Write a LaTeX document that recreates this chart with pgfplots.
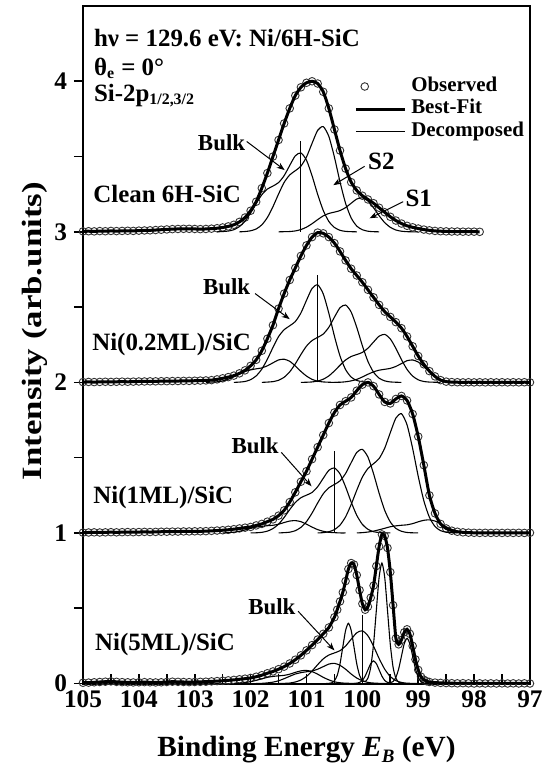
\documentclass[border=0pt]{standalone}
\usepackage{fontspec}
\setmainfont{Liberation Serif}
\usepackage{graphicx}
\usepackage{pgfplots}
\pgfplotsset{compat=1.18}
\usepackage{pgfplotstable}
\usetikzlibrary{arrows.meta}

\newcommand\annf{\fontsize{12.5}{14}\selectfont\bfseries}
\newcommand\bulkf{\fontsize{11.5}{13}\selectfont\bfseries}

\pgfplotsset{
 obs/.style={only marks, mark=o, mark size=1.9bp, mark options={line width=0.45bp, draw=black!80}},
 fit/.style={line width=1.5bp, black, smooth, tension=0.4, mark=none},
 comp/.style={line width=0.55bp, black, smooth, tension=0.4, mark=none},
 vline/.style={line width=0.55bp, black, mark=none},
 obslegend/.style={legend image code/.code={\draw[mark repeat=2,mark phase=2,##1] plot coordinates {(0bp,0bp) (4.5bp,0bp) (9bp,0bp)};}},
}

% ---------- observed (relative to baseline) ----------
\pgfplotstableread[row sep=\\]{E v\\
105.0 0.003\\104.9 0.004\\104.8 0.003\\104.7 0.005\\104.6 0.004\\104.5 0.006\\104.4 0.005\\104.3 0.006\\104.2 0.007\\104.1 0.006\\
104.0 0.008\\103.9 0.009\\103.8 0.010\\103.7 0.012\\103.6 0.014\\103.5 0.016\\103.4 0.018\\103.3 0.019\\103.2 0.020\\103.1 0.020\\
103.0 0.019\\102.9 0.018\\102.8 0.019\\102.7 0.021\\102.6 0.024\\102.5 0.029\\102.4 0.036\\102.3 0.047\\102.2 0.066\\102.1 0.095\\
102.0 0.140\\101.9 0.200\\101.8 0.290\\101.7 0.390\\101.6 0.500\\101.5 0.610\\101.4 0.720\\101.3 0.820\\101.2 0.905\\101.1 0.960\\
101.0 0.990\\100.9 1.000\\100.8 0.985\\100.7 0.930\\100.6 0.820\\100.5 0.680\\100.4 0.540\\100.3 0.420\\100.2 0.330\\100.1 0.275\\
100.0 0.240\\99.9 0.215\\99.8 0.190\\99.7 0.160\\99.6 0.130\\99.5 0.100\\99.4 0.075\\99.3 0.055\\99.2 0.040\\99.1 0.030\\
99.0 0.022\\98.9 0.015\\98.8 0.010\\98.7 0.006\\98.6 0.004\\98.5 0.003\\98.4 0.002\\98.3 0.002\\98.2 0.001\\98.1 0.001\\
98.0 0.001\\97.9 0.000\\
}\obsA

\pgfplotstableread[row sep=\\]{E v\\
105.0 0.002\\104.9 0.003\\104.8 0.002\\104.7 0.003\\104.6 0.004\\104.5 0.003\\104.4 0.004\\104.3 0.005\\104.2 0.004\\104.1 0.005\\
104.0 0.006\\103.9 0.006\\103.8 0.007\\103.7 0.007\\103.6 0.008\\103.5 0.008\\103.4 0.009\\103.3 0.009\\103.2 0.010\\103.1 0.010\\
103.0 0.011\\102.9 0.012\\102.8 0.013\\102.7 0.015\\102.6 0.020\\102.5 0.027\\102.4 0.035\\102.3 0.045\\102.2 0.060\\102.1 0.080\\
102.0 0.110\\101.9 0.150\\101.8 0.210\\101.7 0.290\\101.6 0.380\\101.5 0.490\\101.4 0.590\\101.3 0.680\\101.2 0.760\\101.1 0.840\\
101.0 0.910\\100.9 0.965\\100.8 0.995\\100.7 0.990\\100.6 0.965\\100.5 0.925\\100.4 0.870\\100.3 0.810\\100.2 0.755\\100.1 0.710\\
100.0 0.665\\99.9 0.615\\99.8 0.565\\99.7 0.515\\99.6 0.470\\99.5 0.435\\99.4 0.400\\99.3 0.360\\99.2 0.305\\99.1 0.240\\
99.0 0.175\\98.9 0.120\\98.8 0.075\\98.7 0.040\\98.6 0.015\\98.5 0.005\\98.4 0.002\\98.3 0.001\\98.2 0.000\\98.1 0.001\\
98.0 0.000\\97.9 0.001\\97.8 0.000\\97.7 0.001\\97.6 0.000\\97.5 0.001\\97.4 0.000\\97.3 0.001\\97.2 0.000\\97.1 0.001\\97.0 0.000\\
}\obsB

\pgfplotstableread[row sep=\\]{E v\\
105.0 0.002\\104.9 0.003\\104.8 0.004\\104.7 0.003\\104.6 0.004\\104.5 0.005\\104.4 0.004\\104.3 0.005\\104.2 0.006\\104.1 0.005\\
104.0 0.006\\103.9 0.007\\103.8 0.006\\103.7 0.007\\103.6 0.008\\103.5 0.008\\103.4 0.009\\103.3 0.009\\103.2 0.010\\103.1 0.010\\
103.0 0.011\\102.9 0.011\\102.8 0.012\\102.7 0.014\\102.6 0.016\\102.5 0.018\\102.4 0.021\\102.3 0.025\\102.2 0.030\\102.1 0.035\\
102.0 0.040\\101.9 0.050\\101.8 0.060\\101.7 0.075\\101.6 0.090\\101.5 0.115\\101.4 0.150\\101.3 0.205\\101.2 0.270\\101.1 0.340\\
101.0 0.410\\100.9 0.490\\100.8 0.570\\100.7 0.650\\100.6 0.730\\100.5 0.800\\100.4 0.850\\100.3 0.875\\100.2 0.900\\100.1 0.945\\
100.0 0.985\\99.9 1.000\\99.8 0.975\\99.7 0.920\\99.6 0.870\\99.5 0.860\\99.4 0.890\\99.3 0.910\\99.2 0.880\\99.1 0.790\\
99.0 0.640\\98.9 0.450\\98.8 0.250\\98.7 0.130\\98.6 0.060\\98.5 0.030\\98.4 0.015\\98.3 0.008\\98.2 0.004\\98.1 0.002\\
98.0 0.001\\97.9 0.000\\97.8 0.001\\97.7 0.000\\97.6 0.001\\97.5 0.000\\97.4 0.001\\97.3 0.000\\97.2 0.001\\97.1 0.000\\97.0 0.001\\
}\obsC

\pgfplotstableread[row sep=\\]{E v\\
105.0 0.005\\104.9 0.006\\104.8 0.008\\104.7 0.010\\104.6 0.012\\104.5 0.014\\104.4 0.011\\104.3 0.009\\104.2 0.008\\104.1 0.007\\
104.0 0.008\\103.9 0.009\\103.8 0.008\\103.7 0.007\\103.6 0.008\\103.5 0.010\\103.4 0.012\\103.3 0.011\\103.2 0.010\\103.1 0.009\\
103.0 0.010\\102.9 0.011\\102.8 0.012\\102.7 0.014\\102.6 0.016\\102.5 0.018\\102.4 0.021\\102.3 0.024\\102.2 0.028\\102.1 0.032\\
102.0 0.037\\101.9 0.045\\101.8 0.055\\101.7 0.068\\101.6 0.080\\101.5 0.095\\101.4 0.112\\101.3 0.133\\101.2 0.158\\101.1 0.187\\
101.0 0.220\\100.9 0.255\\100.8 0.292\\100.7 0.330\\100.6 0.372\\100.5 0.440\\
100.45 0.490\\100.40 0.545\\100.35 0.605\\100.30 0.680\\100.25 0.760\\100.20 0.800\\100.15 0.790\\100.10 0.720\\100.05 0.620\\100.00 0.530\\
99.95 0.490\\99.90 0.510\\99.85 0.570\\99.80 0.650\\99.75 0.780\\99.70 0.910\\99.65 0.990\\99.60 0.980\\99.55 0.900\\99.50 0.740\\
99.45 0.520\\99.40 0.300\\99.35 0.260\\99.30 0.290\\99.25 0.340\\99.20 0.360\\99.15 0.330\\99.10 0.250\\99.05 0.160\\99.00 0.090\\
98.95 0.045\\98.90 0.025\\98.85 0.015\\98.80 0.010\\
98.7 0.006\\98.6 0.004\\98.5 0.003\\98.4 0.002\\98.3 0.001\\98.2 0.002\\98.1 0.001\\98.0 0.000\\97.9 0.001\\97.8 0.000\\
97.7 0.001\\97.6 0.000\\97.5 0.001\\97.4 0.000\\97.3 0.001\\97.2 0.000\\97.1 0.001\\97.0 0.000\\
}\obsD

% ---------- components: clean ----------
\pgfplotstableread[row sep=\\]{E v\\
100.1 0\\100.2 0.001\\100.3 0.003\\100.4 0.010\\100.5 0.029\\100.6 0.069\\100.7 0.142\\100.8 0.249\\100.9 0.372\\101.0 0.476\\
101.1 0.524\\101.2 0.505\\101.3 0.441\\101.4 0.373\\101.5 0.327\\101.6 0.304\\101.7 0.284\\101.8 0.246\\101.9 0.188\\102.0 0.125\\
102.1 0.071\\102.2 0.035\\102.3 0.014\\102.4 0.005\\102.5 0.002\\102.6 0\\
}\cAa
\pgfplotstableread[row sep=\\]{E v\\
99.7 0\\99.8 0.001\\99.9 0.004\\100.0 0.014\\100.1 0.038\\100.2 0.092\\100.3 0.189\\100.4 0.332\\100.5 0.496\\100.6 0.634\\
100.7 0.699\\100.8 0.674\\100.9 0.588\\101.0 0.497\\101.1 0.436\\101.2 0.406\\101.3 0.378\\101.4 0.328\\101.5 0.251\\101.6 0.167\\
101.7 0.095\\101.8 0.046\\101.9 0.019\\102.0 0.007\\102.1 0.002\\102.2 0\\
}\cAb
\pgfplotstableread[row sep=\\]{E v\\
99.0 0\\99.1 0.000\\99.2 0.001\\99.3 0.004\\99.4 0.012\\99.5 0.030\\99.6 0.061\\99.7 0.107\\99.8 0.160\\99.9 0.205\\
100.0 0.226\\100.1 0.218\\100.2 0.190\\100.3 0.161\\100.4 0.141\\100.5 0.131\\100.6 0.122\\100.7 0.106\\100.8 0.081\\100.9 0.054\\
101.0 0.031\\101.1 0.015\\101.2 0.006\\101.3 0.002\\101.4 0.001\\101.5 0\\
}\cAc

% ---------- components: 0.2 ML ----------
\pgfplotstableread[row sep=\\]{E v\\
100.4 0\\100.5 0.000\\100.6 0.001\\100.7 0.003\\100.8 0.008\\100.9 0.020\\101.0 0.042\\101.1 0.073\\101.2 0.109\\101.3 0.140\\
101.4 0.154\\101.5 0.149\\101.6 0.130\\101.7 0.110\\101.8 0.096\\101.9 0.090\\102.0 0.083\\102.1 0.072\\102.2 0.055\\102.3 0.037\\
102.4 0.021\\102.5 0.010\\102.6 0.004\\102.7 0.002\\102.8 0\\
}\cBa
\pgfplotstableread[row sep=\\]{E v\\
99.8 0\\99.9 0.001\\100.0 0.004\\100.1 0.013\\100.2 0.035\\100.3 0.085\\100.4 0.175\\100.5 0.307\\100.6 0.459\\100.7 0.588\\
100.8 0.648\\100.9 0.624\\101.0 0.545\\101.1 0.461\\101.2 0.404\\101.3 0.376\\101.4 0.350\\101.5 0.304\\101.6 0.232\\101.7 0.154\\
101.8 0.088\\101.9 0.043\\102.0 0.018\\102.1 0.006\\102.2 0.002\\102.3 0\\
}\cBb
\pgfplotstableread[row sep=\\]{E v\\
99.3 0\\99.4 0.001\\99.5 0.003\\99.6 0.010\\99.7 0.028\\99.8 0.068\\99.9 0.139\\100.0 0.244\\100.1 0.365\\100.2 0.467\\
100.3 0.514\\100.4 0.496\\100.5 0.433\\100.6 0.366\\100.7 0.321\\100.8 0.299\\100.9 0.278\\101.0 0.241\\101.1 0.185\\101.2 0.123\\
101.3 0.070\\101.4 0.034\\101.5 0.014\\101.6 0.005\\101.7 0.002\\101.8 0\\
}\cBc
\pgfplotstableread[row sep=\\]{E v\\
98.6 0\\98.7 0.001\\98.8 0.002\\98.9 0.006\\99.0 0.017\\99.1 0.042\\99.2 0.086\\99.3 0.151\\99.4 0.226\\99.5 0.289\\
99.6 0.319\\99.7 0.307\\99.8 0.268\\99.9 0.227\\100.0 0.199\\100.1 0.185\\100.2 0.172\\100.3 0.149\\100.4 0.114\\100.5 0.076\\
100.6 0.043\\100.7 0.021\\100.8 0.009\\100.9 0.003\\101.0 0.001\\101.1 0\\
}\cBd
\pgfplotstableread[row sep=\\]{E v\\
98.1 0\\98.2 0.000\\98.3 0.001\\98.4 0.003\\98.5 0.008\\98.6 0.020\\98.7 0.040\\98.8 0.071\\98.9 0.106\\99.0 0.135\\
99.1 0.149\\99.2 0.144\\99.3 0.125\\99.4 0.106\\99.5 0.093\\99.6 0.087\\99.7 0.081\\99.8 0.070\\99.9 0.054\\100.0 0.036\\
100.1 0.020\\100.2 0.010\\100.3 0.004\\100.4 0.001\\100.5 0\\
}\cBe

% ---------- components: 1 ML ----------
\pgfplotstableread[row sep=\\]{E v\\
100.3 0\\100.4 0.000\\100.5 0.002\\100.6 0.004\\100.7 0.011\\100.8 0.022\\100.9 0.039\\101.0 0.058\\101.1 0.075\\101.2 0.082\\
101.3 0.079\\101.4 0.069\\101.5 0.058\\101.6 0.051\\101.7 0.048\\101.8 0.044\\101.9 0.039\\102.0 0.030\\102.1 0.020\\102.2 0.011\\
102.3 0.005\\102.4 0.002\\102.5 0\\
}\cCa
\pgfplotstableread[row sep=\\]{E v\\
99.5 0\\99.6 0.001\\99.7 0.003\\99.8 0.008\\99.9 0.024\\100.0 0.057\\100.1 0.117\\100.2 0.205\\100.3 0.306\\100.4 0.392\\
100.5 0.432\\100.6 0.416\\100.7 0.363\\100.8 0.307\\100.9 0.269\\101.0 0.251\\101.1 0.234\\101.2 0.202\\101.3 0.155\\101.4 0.103\\
101.5 0.058\\101.6 0.029\\101.7 0.012\\101.8 0.004\\101.9 0.001\\102.0 0\\
}\cCb
\pgfplotstableread[row sep=\\]{E v\\
99.0 0\\99.1 0.001\\99.2 0.003\\99.3 0.011\\99.4 0.030\\99.5 0.073\\99.6 0.150\\99.7 0.264\\99.8 0.394\\99.9 0.504\\
100.0 0.555\\100.1 0.535\\100.2 0.467\\100.3 0.395\\100.4 0.346\\100.5 0.322\\100.6 0.300\\100.7 0.260\\100.8 0.199\\100.9 0.132\\
101.0 0.075\\101.1 0.037\\101.2 0.015\\101.3 0.005\\101.4 0.002\\101.5 0\\
}\cCc
\pgfplotstableread[row sep=\\]{E v\\
98.3 0\\98.4 0.002\\98.5 0.005\\98.6 0.015\\98.7 0.043\\98.8 0.104\\98.9 0.214\\99.0 0.376\\99.1 0.561\\99.2 0.718\\
99.3 0.792\\99.4 0.763\\99.5 0.666\\99.6 0.563\\99.7 0.494\\99.8 0.460\\99.9 0.428\\100.0 0.371\\100.1 0.284\\100.2 0.189\\
100.3 0.107\\100.4 0.052\\100.5 0.022\\100.6 0.008\\100.7 0.002\\100.8 0\\
}\cCd
\pgfplotstableread[row sep=\\]{E v\\
98.0 0\\98.1 0.002\\98.2 0.005\\98.3 0.011\\98.4 0.024\\98.5 0.041\\98.6 0.062\\98.7 0.079\\98.8 0.087\\98.9 0.084\\
99.0 0.074\\99.1 0.062\\99.2 0.054\\99.3 0.051\\99.4 0.047\\99.5 0.041\\99.6 0.031\\99.7 0.021\\99.8 0.012\\99.9 0.006\\
100.0 0.002\\100.1 0\\
}\cCe

% ---------- components: 5 ML ----------
\pgfplotstableread[row sep=\\]{E v\\
99.25 0\\99.30 0.002\\99.35 0.009\\99.40 0.035\\99.45 0.108\\99.50 0.260\\99.55 0.485\\99.60 0.706\\99.65 0.800\\99.70 0.706\\
99.75 0.485\\99.80 0.260\\99.85 0.108\\99.90 0.036\\99.95 0.013\\100.00 0.020\\100.05 0.054\\100.10 0.130\\100.15 0.243\\100.20 0.353\\
100.25 0.400\\100.30 0.353\\100.35 0.243\\100.40 0.130\\100.45 0.054\\100.50 0.018\\100.55 0.004\\100.60 0.001\\100.65 0\\
}\cDa
\pgfplotstableread[row sep=\\]{E v\\
98.80 0\\98.85 0.001\\98.90 0.003\\98.95 0.013\\99.00 0.041\\99.05 0.097\\99.10 0.182\\99.15 0.265\\99.20 0.300\\99.25 0.265\\
99.30 0.182\\99.35 0.097\\99.40 0.041\\99.45 0.013\\99.50 0.005\\99.55 0.008\\99.60 0.020\\99.65 0.049\\99.70 0.091\\99.75 0.132\\
99.80 0.150\\99.85 0.132\\99.90 0.091\\99.95 0.049\\100.00 0.020\\100.05 0.007\\100.10 0.002\\100.15 0\\
}\cDb
\pgfplotstableread[row sep=\\]{E v\\
99.0 0\\99.1 0.001\\99.2 0.002\\99.3 0.007\\99.4 0.019\\99.5 0.046\\99.6 0.095\\99.7 0.166\\99.8 0.248\\99.9 0.317\\
100.0 0.350\\100.1 0.337\\100.2 0.294\\100.3 0.249\\100.4 0.218\\100.5 0.203\\100.6 0.189\\100.7 0.164\\100.8 0.125\\100.9 0.083\\
101.0 0.047\\101.1 0.023\\101.2 0.010\\101.3 0.003\\101.4 0.001\\101.5 0\\
}\cDc
\pgfplotstableread[row sep=\\]{E v\\
99.5 0\\99.6 0.000\\99.7 0.001\\99.8 0.003\\99.9 0.007\\100.0 0.018\\100.1 0.036\\100.2 0.063\\100.3 0.095\\100.4 0.121\\
100.5 0.134\\100.6 0.129\\100.7 0.112\\100.8 0.095\\100.9 0.083\\101.0 0.078\\101.1 0.072\\101.2 0.063\\101.3 0.048\\101.4 0.032\\
101.5 0.018\\101.6 0.009\\101.7 0.004\\101.8 0.001\\101.9 0\\
}\cDd
\pgfplotstableread[row sep=\\]{E v\\
100.1 0\\100.2 0.001\\100.3 0.002\\100.4 0.005\\100.5 0.011\\100.6 0.024\\100.7 0.041\\100.8 0.062\\100.9 0.079\\101.0 0.087\\
101.1 0.084\\101.2 0.074\\101.3 0.062\\101.4 0.054\\101.5 0.051\\101.6 0.047\\101.7 0.041\\101.8 0.031\\101.9 0.021\\102.0 0.012\\
102.1 0.006\\102.2 0.002\\102.3 0\\
}\cDe

\begin{document}
\begin{tikzpicture}
\begin{axis}[
 name=ax, scale only axis, width=223.5bp, height=338.75bp,
 x dir=reverse, xmin=97, xmax=105, ymin=0, ymax=4.5,
 xtick={97,98,99,100,101,102,103,104,105},
 xticklabels={97,98,99,100,101,102,103,104,105},
 minor xtick={97.5,98.5,99.5,100.5,101.5,102.5,103.5,104.5},
 ytick={0,1,2,3,4}, yticklabels={0,1,2,3,4},
 minor ytick={0.5,1.5,2.5,3.5},
 tick pos=left, xtick align=inside, ytick align=outside,
 major tick length=4.5bp, minor tick length=4.5bp,
 every tick/.style={black, line width=0.8bp},
 axis line style={line width=1bp},
 tick label style={font=\fontsize{12.7}{14}\selectfont\bfseries},
 xlabel={Binding Energy \textit{E}\raisebox{-0.45ex}{\fontsize{9.5}{10}\selectfont\textit{B}} (eV)},
 ylabel={\scalebox{1.25}[1]{Intensity (arb.units)}},
 xlabel style={font=\fontsize{14.7}{16}\selectfont\bfseries, at={(axis description cs:0.5,-0.098)}, anchor=center},
 ylabel style={font=\fontsize{14}{16}\selectfont\bfseries, at={(axis description cs:-0.107,0.52)}, anchor=center},
 clip mode=individual,
 legend style={at={(0.606,0.898)}, anchor=north west, draw=none, fill=none, inner sep=0pt,
   row sep=0.3bp, column sep=2bp, font=\fontsize{10.5}{12}\selectfont\bfseries,
   nodes={inner sep=0.5bp, text height=7.4bp, text depth=2.6bp}},
 legend cell align=left,
 legend image code/.code={\draw[#1] (0bp,0bp) -- (24.5bp,0bp);},
]

% ===== Clean 6H-SiC (baseline 3) =====
\addplot[obs, obslegend] table[x=E, y expr=\thisrow{v}+3] {\obsA};
\addlegendentry{Observed}
\addplot[fit] table[x=E, y expr=\thisrow{v}+3] {\obsA};
\addlegendentry{Best-Fit}
\addplot[comp] table[x=E, y expr=\thisrow{v}+3] {\cAa};
\addlegendentry{Decomposed}
\addplot[comp, forget plot] table[x=E, y expr=\thisrow{v}+3] {\cAb};
\addplot[comp, forget plot] table[x=E, y expr=\thisrow{v}+3] {\cAc};
\addplot[vline, forget plot] coordinates {(101.1,3) (101.1,3.60)};

% ===== Ni(0.2ML) (baseline 2) =====
\addplot[obs, forget plot] table[x=E, y expr=\thisrow{v}+2] {\obsB};
\addplot[fit, forget plot] table[x=E, y expr=\thisrow{v}+2] {\obsB};
\addplot[comp, forget plot] table[x=E, y expr=\thisrow{v}+2] {\cBa};
\addplot[comp, forget plot] table[x=E, y expr=\thisrow{v}+2] {\cBb};
\addplot[comp, forget plot] table[x=E, y expr=\thisrow{v}+2] {\cBc};
\addplot[comp, forget plot] table[x=E, y expr=\thisrow{v}+2] {\cBd};
\addplot[comp, forget plot] table[x=E, y expr=\thisrow{v}+2] {\cBe};
\addplot[vline, forget plot] coordinates {(100.8,2) (100.8,2.71)};

% ===== Ni(1ML) (baseline 1) =====
\addplot[obs, forget plot] table[x=E, y expr=\thisrow{v}+1] {\obsC};
\addplot[fit, forget plot] table[x=E, y expr=\thisrow{v}+1] {\obsC};
\addplot[comp, forget plot] table[x=E, y expr=\thisrow{v}+1] {\cCa};
\addplot[comp, forget plot] table[x=E, y expr=\thisrow{v}+1] {\cCb};
\addplot[comp, forget plot] table[x=E, y expr=\thisrow{v}+1] {\cCc};
\addplot[comp, forget plot] table[x=E, y expr=\thisrow{v}+1] {\cCd};
\addplot[comp, forget plot] table[x=E, y expr=\thisrow{v}+1] {\cCe};
\addplot[vline, forget plot] coordinates {(100.5,1) (100.5,1.545)};

% ===== Ni(5ML) (baseline 0) =====
\addplot[obs, forget plot] table[x=E, y=v] {\obsD};
\addplot[fit, forget plot] table[x=E, y=v] {\obsD};
\addplot[comp, forget plot] table[x=E, y=v] {\cDa};
\addplot[comp, forget plot] table[x=E, y=v] {\cDb};
\addplot[comp, forget plot] table[x=E, y=v] {\cDc};
\addplot[comp, forget plot] table[x=E, y=v] {\cDd};
\addplot[comp, forget plot] table[x=E, y=v] {\cDe};
\addplot[vline, forget plot] coordinates {(100.0,0) (100.0,0.457)};

% ===== annotations =====
\node[anchor=west, inner sep=0pt, font=\annf] at (axis cs:104.81,4.29) {hν = 129.6 eV: Ni/6H-SiC};
\node[anchor=west, inner sep=0pt, font=\annf] at (axis cs:104.81,4.085) {θ\textsubscript{\fontsize{8}{8}\selectfont e} = 0°};
\node[anchor=west, inner sep=0pt, font=\annf] at (axis cs:104.81,3.905) {Si-2p\textsubscript{\fontsize{8}{8}\selectfont 1/2,3/2}};
\node[anchor=west, inner sep=0pt, font=\annf] at (axis cs:104.82,3.25) {Clean 6H-SiC};
\node[anchor=west, inner sep=0pt, font=\annf] at (axis cs:104.84,2.25) {Ni(0.2ML)/SiC};
\node[anchor=west, inner sep=0pt, font=\annf] at (axis cs:104.82,1.235) {Ni(1ML)/SiC};
\node[anchor=west, inner sep=0pt, font=\annf] at (axis cs:104.79,0.257) {Ni(5ML)/SiC};

\node[inner sep=0pt, font=\bulkf] at (axis cs:102.52,3.59) {Bulk};
\draw[-{Stealth[length=4bp,width=3bp]}, line width=0.5bp] (axis cs:102.07,3.60) -- (axis cs:101.39,3.41);
\node[inner sep=0pt, font=\annf] at (axis cs:99.66,3.47) {S2};
\draw[-{Stealth[length=4bp,width=3bp]}, line width=0.5bp] (axis cs:99.96,3.435) -- (axis cs:100.52,3.31);
\node[inner sep=0pt, font=\annf] at (axis cs:98.99,3.22) {S1};
\draw[-{Stealth[length=4bp,width=3bp]}, line width=0.5bp] (axis cs:99.27,3.20) -- (axis cs:99.87,3.09);

\node[inner sep=0pt, font=\bulkf] at (axis cs:102.43,2.635) {Bulk};
\draw[-{Stealth[length=4bp,width=3bp]}, line width=0.5bp] (axis cs:101.92,2.59) -- (axis cs:101.30,2.42);
\node[inner sep=0pt, font=\bulkf] at (axis cs:101.92,1.58) {Bulk};
\draw[-{Stealth[length=4bp,width=3bp]}, line width=0.5bp] (axis cs:101.45,1.535) -- (axis cs:100.91,1.31);
\node[inner sep=0pt, font=\bulkf] at (axis cs:101.62,0.51) {Bulk};
\draw[-{Stealth[length=4bp,width=3bp]}, line width=0.5bp] (axis cs:101.15,0.48) -- (axis cs:100.50,0.22);
\end{axis}
\pgfresetboundingbox
\path[use as bounding box] ([xshift=-41.5bp,yshift=-45.25bp]ax.south west) rectangle ([xshift=7bp,yshift=3bp]ax.north east);
\end{tikzpicture}
\end{document}
